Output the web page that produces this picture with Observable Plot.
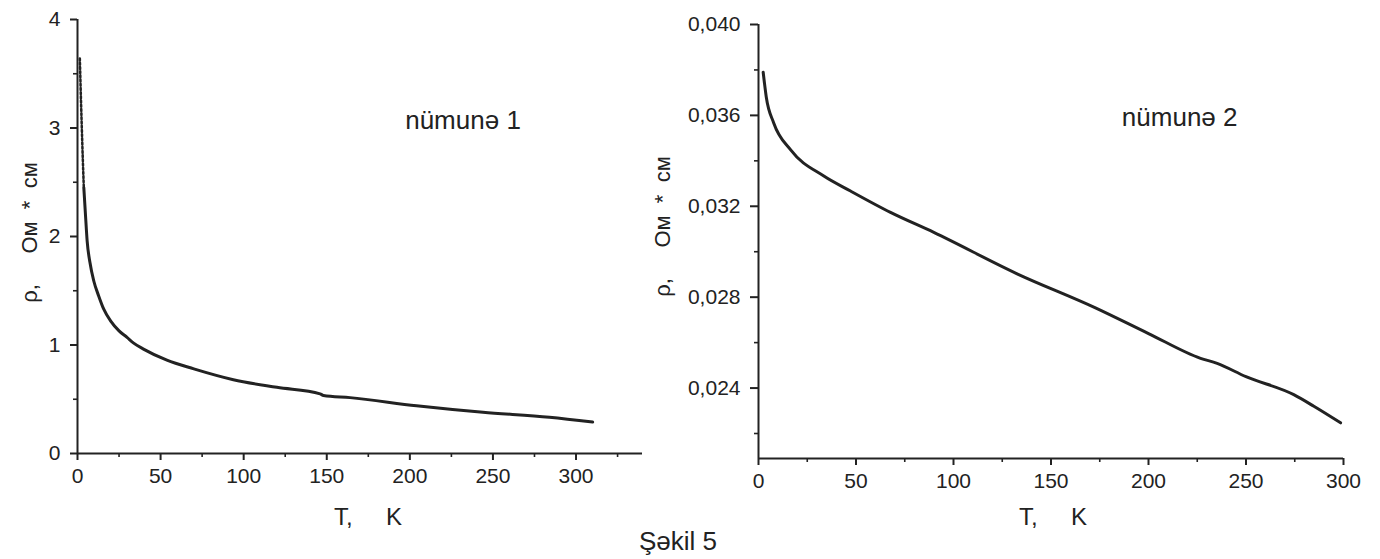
<!DOCTYPE html>
<html><head><meta charset="utf-8">
<script src="https://cdn.jsdelivr.net/npm/d3@7"></script>
<script src="https://cdn.jsdelivr.net/npm/@observablehq/plot@0.6"></script>
<style>
body{margin:0;background:#fff;}
#wrap{position:relative;width:1380px;height:559px;font-family:"Liberation Sans",Arial,sans-serif;color:#222;overflow:hidden;}
#p1{position:absolute;left:0;top:0;}
#p2{position:absolute;left:620px;top:0;}
#cap{position:absolute;left:639px;top:526px;font-size:26px;line-height:30px;}
</style>
</head><body>
<div id="wrap"><div id="p1"></div><div id="p2"></div><div id="cap">Şəkil 5</div></div>
<script>
// Sample 1 (nümunə 1): dotted start and solid curve
const T1dot = [1.4, 1.8, 2.2, 2.6, 3.0, 3.4, 3.8];
const rho1dot = [3.64, 3.42, 3.2, 3.0, 2.8, 2.62, 2.45];
const T1 = [3.8, 4.8, 5.8, 7.5, 9.8, 12.8, 15.8, 20, 25, 29.8, 33.6, 40, 53.8, 70, 93.8, 120, 146, 148, 164, 204, 244, 284, 310];
const rho1 = [2.45, 2.2, 1.96, 1.76, 1.59, 1.45, 1.33, 1.22, 1.13, 1.07, 1.02, 0.96, 0.86, 0.78, 0.68, 0.61, 0.55, 0.535, 0.515, 0.44, 0.38, 0.335, 0.29];
// Sample 2 (nümunə 2)
const T2 = [2.4, 4, 7.8, 16.4, 33.5, 47.2, 67.7, 89.9, 132.6, 172.8, 200, 226.7, 235.2, 250, 274.5, 284.8, 298.5];
const rho2 = [0.0379, 0.0368, 0.03567, 0.03449, 0.03333, 0.03267, 0.03173, 0.03085, 0.02903, 0.02753, 0.0264, 0.02531, 0.02509, 0.0245, 0.02371, 0.0232, 0.02247];
// ticks
const xMajor1 = [0, 50, 100, 150, 200, 250, 300];
const xMinor1 = [25, 75, 125, 175, 225, 275, 325];
const yMajor1 = [0, 1, 2, 3, 4];
const yMinor1 = [0.5, 1.5, 2.5, 3.5];
const xMajor2 = [0, 50, 100, 150, 200, 250, 300];
const xMinor2 = [25, 75, 125, 175, 225, 275];
const yMajor2 = [0.024, 0.028, 0.032, 0.036, 0.040];
const yMinor2 = [0.022, 0.026, 0.030, 0.034, 0.038];
const labels = ["nümunə 1", "nümunə 2"];
const sp = n => "\u00a0".repeat(n);
const yLabel = "ρ," + sp(5) + "Ом" + sp(2) + "*" + sp(2) + "см";
const xLabel = "T," + sp(5) + "K";

const ink = "#222";
const font = {fontFamily: "'Liberation Sans', Arial, sans-serif", fontSize: "21px", color: ink, background: "transparent", overflow: "visible"};
const d1 = T1.map((t, i) => ({t, r: rho1[i]}));
const d1dot = T1dot.map((t, i) => ({t, r: rho1dot[i]}));
const d2 = T2.map((t, i) => ({t, r: rho2[i]}));

const p1 = Plot.plot({
  width: 660, height: 540, marginLeft: 77, marginRight: 18, marginTop: 19, marginBottom: 87,
  x: {domain: [0, 340]}, y: {domain: [0, 4]},
  style: font,
  marks: [
    Plot.ruleX([0], {stroke: ink, strokeWidth: 2}),
    Plot.ruleY([0], {stroke: ink, strokeWidth: 2}),
    Plot.axisY(yMajor1, {tickSize: 7, tickPadding: 10, stroke: ink, strokeWidth: 2, strokeOpacity: 1, tickFormat: d => String(d), fontSize: 21, label: null}),
    Plot.axisY(yMinor1, {tickSize: 4, text: null, label: null, stroke: ink, strokeWidth: 1.6, strokeOpacity: 1}),
    Plot.axisX(xMajor1, {tickSize: 7, tickPadding: 8, stroke: ink, strokeWidth: 2, strokeOpacity: 1, fontSize: 21, label: null}),
    Plot.axisX(xMinor1, {tickSize: 4, text: null, label: null, stroke: ink, strokeWidth: 1.6, strokeOpacity: 1}),
    Plot.text([yLabel], {frameAnchor: "left", dx: -48, dy: -4, rotate: -90, textAnchor: "middle", text: d => d, fontSize: 22, fill: ink}),
    Plot.text([xLabel], {frameAnchor: "bottom", dx: 8, dy: 71, textAnchor: "middle", text: d => d, fontSize: 24, fill: ink}),
    Plot.line(d1dot, {x: "t", y: "r", stroke: ink, strokeWidth: 2.5, strokeDasharray: "2,2.2"}),
    Plot.line(d1, {x: "t", y: "r", stroke: ink, strokeWidth: 3, curve: "monotone-x"}),
    Plot.text([labels[0]], {x: 232, y: 3.07, text: d => d, fontSize: 26, fill: ink})
  ]
});
document.getElementById("p1").append(p1);

const fmt = d => d.toFixed(3).replace(".", ",");
const p2 = Plot.plot({
  width: 760, height: 540, marginLeft: 138, marginRight: 37, marginTop: 24, marginBottom: 82,
  x: {domain: [0, 300]}, y: {domain: [0.0209, 0.040]},
  style: font,
  marks: [
    Plot.ruleX([0], {stroke: ink, strokeWidth: 2}),
    Plot.ruleY([0.0209], {stroke: ink, strokeWidth: 2}),
    Plot.axisY(yMajor2, {tickSize: 8, tickPadding: 10, stroke: ink, strokeWidth: 2, strokeOpacity: 1, tickFormat: fmt, fontSize: 21, label: null}),
    Plot.axisY(yMinor2, {tickSize: 4, text: null, label: null, stroke: ink, strokeWidth: 1.6, strokeOpacity: 1}),
    Plot.axisX(xMajor2, {tickSize: 7, tickPadding: 8, stroke: ink, strokeWidth: 2, strokeOpacity: 1, fontSize: 21, label: null}),
    Plot.axisX(xMinor2, {tickSize: 4, text: null, label: null, stroke: ink, strokeWidth: 1.6, strokeOpacity: 1}),
    Plot.text([yLabel], {frameAnchor: "left", dx: -96, dy: -15, rotate: -90, textAnchor: "middle", text: d => d, fontSize: 22, fill: ink}),
    Plot.text([xLabel], {frameAnchor: "bottom", dx: 2, dy: 66, textAnchor: "middle", text: d => d, fontSize: 24, fill: ink}),
    Plot.line(d2, {x: "t", y: "r", stroke: ink, strokeWidth: 3, curve: "monotone-x"}),
    Plot.text([labels[1]], {x: 216, y: 0.03589, text: d => d, fontSize: 26, fill: ink})
  ]
});
document.getElementById("p2").append(p2);
</script>
</body></html>
